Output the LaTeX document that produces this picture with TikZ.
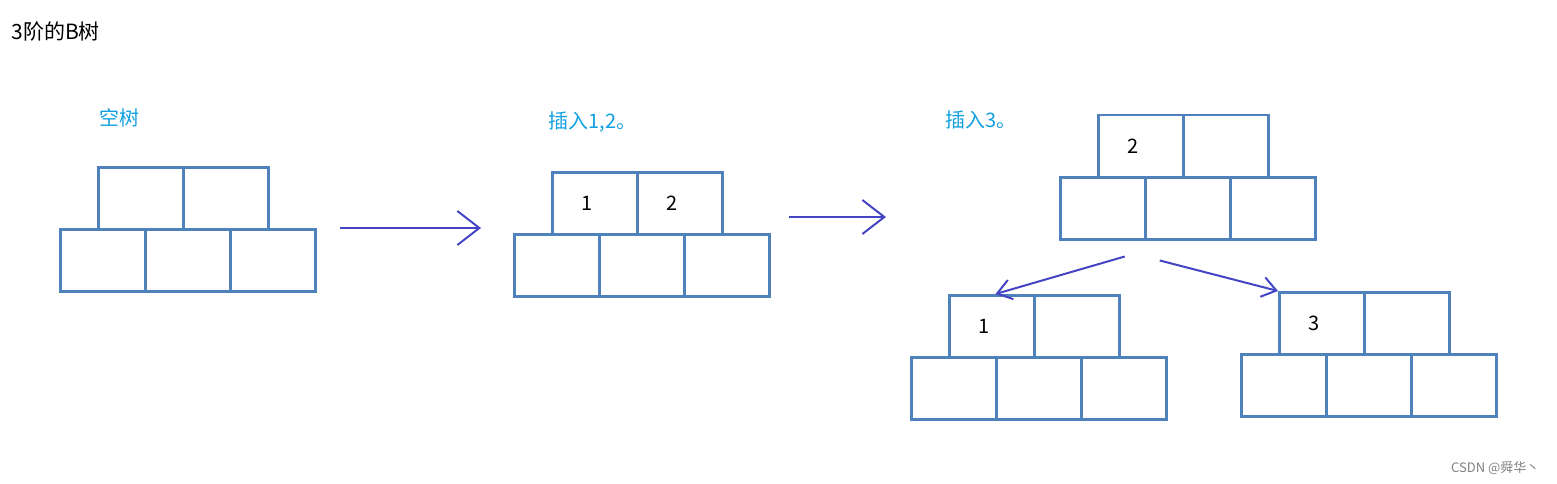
\documentclass[tikz,border=0pt]{standalone}
\usepackage{fontspec}
\setmainfont{Noto Sans CJK SC}
\usetikzlibrary{arrows.meta}
\usetikzlibrary{positioning}

\definecolor{cellblue}{HTML}{4F81BD}
\definecolor{arrowblue}{HTML}{4444C4}
\definecolor{captioncyan}{HTML}{10A0E0}

\tikzset{
  cell/.style={draw=cellblue,line width=2.5pt,minimum width=85pt,minimum height=62pt,
    inner sep=0pt,anchor=north west,font=\fontsize{20}{20}\selectfont},
  caption/.style={anchor=west,text=captioncyan,font=\fontsize{20}{20}\selectfont},
  bigarrow/.style={draw=arrowblue,line width=2pt,-{Straight Barb[length=22pt,width=34pt,line width=2pt]}},
  smallarrow/.style={draw=arrowblue,line width=2pt,-{Straight Barb[length=14pt,width=20pt,line width=2pt]}}
}

% one B-tree node: two key cells on three child cells
\newcommand{\btnode}[5]{%
  \node [cell] (#1-k1) at (#2,#3) {#4};
  \node [cell] (#1-k2) at (#2+85,#3) {#5};
  \node [cell] (#1-c1) at (#2-38,#3+62) {};
  \node [cell] (#1-c2) at (#2+47,#3+62) {};
  \node [cell] (#1-c3) at (#2+132,#3+62) {};
}

\begin{document}
\begin{tikzpicture}[x=1pt,y=-1pt]
  \useasboundingbox (0,0) rectangle (1557,484);

  \node [anchor=west,font=\fontsize{21}{21}\selectfont] (title) at (8,32) {3阶的B树};

  \node [caption] (cap1) at (96,118) {空树};
  \node [caption] (cap2) at (545,122) {插入1,2。};
  \node [caption] (cap3) at (942,120) {插入3。};

  \btnode{empty}{97}{166}{}{}
  \btnode{two}{551}{171}{\hspace*{-16pt}1}{\hspace*{-16pt}2}
  \btnode{root}{1097}{114}{\hspace*{-16pt}2}{}
  \btnode{left}{948}{294}{\hspace*{-16pt}1}{}
  \btnode{right}{1278}{291}{\hspace*{-16pt}3}{}

  \coordinate (a1s) at (340,228);
  \coordinate (a1e) at (481,228);
  \coordinate (a2s) at (789,217);
  \coordinate (a2e) at (886,217);
  \draw [bigarrow] (a1s) -- (a1e);
  \draw [bigarrow] (a2s) -- (a2e);

  \draw [smallarrow] ([xshift=22pt,yshift=-16pt]root-c1.south) -- ([xshift=-40pt]left-k1.north east);
  \draw [smallarrow] ([xshift=-28pt,yshift=-20pt]root-c2.south) -- (right-k1.north west);

  \node [anchor=east,text=gray,font=\fontsize{13}{13}\selectfont] (mark) at (1543,468) {CSDN @舜华丶};
\end{tikzpicture}
\end{document}
